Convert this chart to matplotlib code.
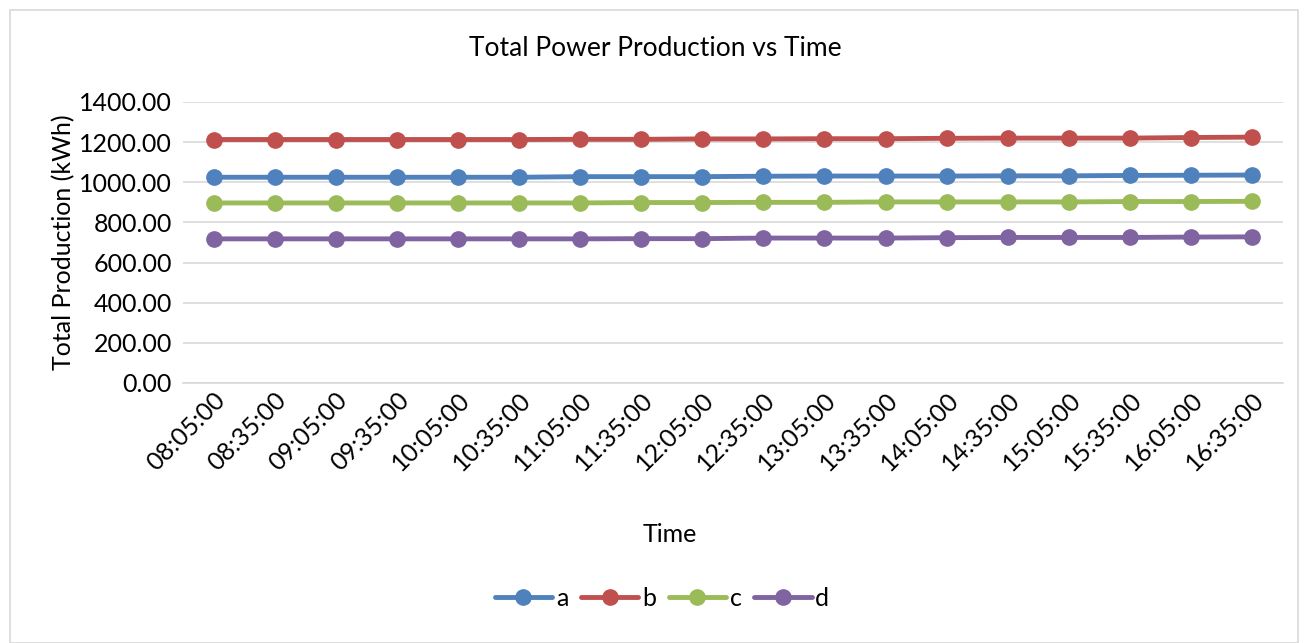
import matplotlib.pyplot as plt
from matplotlib.patches import Rectangle

# data
times = ["08:05:00", "08:35:00", "09:05:00", "09:35:00", "10:05:00", "10:35:00",
         "11:05:00", "11:35:00", "12:05:00", "12:35:00", "13:05:00", "13:35:00",
         "14:05:00", "14:35:00", "15:05:00", "15:35:00", "16:05:00", "16:35:00"]
a = [1025, 1025, 1025, 1025, 1025, 1025, 1028, 1028, 1028, 1030, 1031, 1031,
     1031, 1032, 1032, 1034, 1035, 1036]
b = [1213, 1213, 1213, 1213, 1213, 1213, 1214, 1214, 1216, 1216, 1217, 1217,
     1219, 1220, 1220, 1220, 1223, 1225]
c = [897, 897, 897, 897, 897, 897, 897, 899, 899, 900, 900, 902,
     902, 902, 902, 904, 904, 905]
d = [718, 718, 718, 718, 718, 718, 718, 719, 719, 722, 722, 722,
     724, 725, 725, 725, 727, 728]
yticks = [0, 200, 400, 600, 800, 1000, 1200, 1400]

plt.rcParams['font.family'] = ['Lato', 'DejaVu Sans']
fs = 18

fig = plt.figure(figsize=(13.08, 6.43), dpi=100)
ax = fig.add_axes([0.1399, 0.4044, 0.8407, 0.4370])

x = range(len(times))
series = [(a, "a", "#4F81BD"), (b, "b", "#C0504D"),
          (c, "c", "#9BBB59"), (d, "d", "#8064A2")]
for vals, name, col in series:
    ax.plot(x, vals, color=col, linewidth=3.5, marker="o", markersize=11,
            label=name, solid_capstyle="round")

ax.set_xlim(-0.5, len(times) - 0.5)
ax.set_ylim(0, 1400)
ax.set_yticks(yticks)
ax.set_yticklabels([f"{v:.2f}" for v in yticks], fontsize=fs)
ax.set_xticks(list(x))
ax.set_xticklabels(times, rotation=45, ha="right", rotation_mode="anchor", fontsize=fs)
ax.tick_params(axis="y", length=0, pad=8)
ax.tick_params(axis="x", length=0, pad=4)
ax.grid(axis="y", color="#D9D9D9", linewidth=1.2)
ax.set_axisbelow(True)
for s in ["top", "right", "left"]:
    ax.spines[s].set_visible(False)
ax.spines["bottom"].set_color("#D9D9D9")
ax.spines["bottom"].set_linewidth(1.2)

fig.text(655 / 1308, 1 - 48 / 643, "Total Power Production vs Time", fontsize=fs + 1,
         ha="center", va="center")
ax.set_ylabel("Total Production (kWh)", fontsize=fs, labelpad=3)
fig.text(670 / 1308, 1 - 535 / 643, "Time", fontsize=fs, ha="center", va="center")

ax.legend(loc="center", bbox_to_anchor=(662 / 1308, 1 - 598 / 643), bbox_transform=fig.transFigure,
          ncol=4, frameon=False, fontsize=fs, handlelength=2.3, columnspacing=0.5,
          handletextpad=0.15)

# bingkai luar
fig.patches.append(Rectangle((10 / 1308, 0.0), 1288 / 1308, 1 - 10 / 643,
                             transform=fig.transFigure, fill=False,
                             edgecolor="#D9D9D9", linewidth=1.2))

fig.savefig("out.png", dpi=100)
